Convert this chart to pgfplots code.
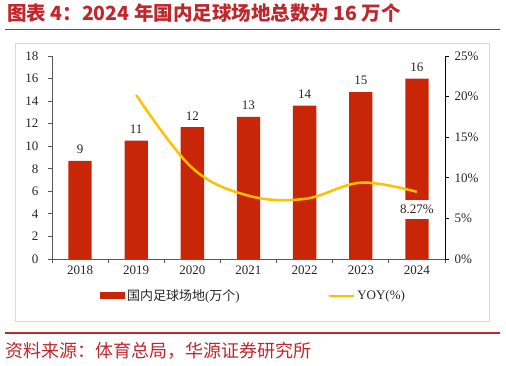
\documentclass[border=0pt]{standalone}
\usepackage{pgfplots}
\pgfplotsset{compat=1.18}
\usepackage{fontspec}
\setmainfont{Liberation Serif}
\newfontfamily\cjk{Noto Sans CJK SC}
\definecolor{titlered}{RGB}{192,39,45}
\definecolor{barred}{RGB}{200,38,6}
\definecolor{linegold}{RGB}{255,192,0}
\definecolor{txt}{RGB}{38,38,38}
\definecolor{axgray}{RGB}{89,89,89}

\pgfplotstableread{
x val label
0 8.7  9
1 10.5 11
2 11.7 12
3 12.6 13
4 13.6 14
5 14.8 15
6 16.0 16
}\bartable

\pgfplotstableread{
x yoy
1 20.2
2 11.2
3 7.8
4 7.4
5 9.4
6 8.27
}\yoytable

\begin{document}
\begin{tikzpicture}
\path (0pt,0pt) rectangle (506pt,366pt);
\node[anchor=base west, inner sep=0, text=titlered] at (7pt,345pt) {\fontsize{19.5}{22}\selectfont\cjk\bfseries 图表 4：2024 年国内足球场地总数为 16 万个};
\draw[titlered, line width=1.5pt] (5pt,336.5pt) -- (500pt,336.5pt);
\draw[black!15, line width=0.8pt] (15pt,323pt) rectangle (489pt,45pt);
\draw[titlered, line width=1.5pt] (5pt,33pt) -- (500pt,33pt);
\node[anchor=base west, inner sep=0, text=titlered] at (5pt,8pt) {\fontsize{18}{20}\selectfont\cjk 资料来源：体育总局，华源证券研究所};

\begin{axis}[at={(52pt,107pt)}, anchor=south west, scale only axis, width=393pt, height=203pt,
  xmin=-0.5, xmax=6.5, ymin=0, ymax=18, ytick={0,2,...,18},
  axis x line*=bottom, axis y line*=left,
  axis line style={-, axgray, line width=0.8pt},
  tick align=outside, major tick length=4pt,
  tick style={axgray, line width=0.8pt},
  xtick={-0.5,0.5,1.5,2.5,3.5,4.5,5.5,6.5}, xticklabels={,,,,,,,},
  extra x ticks={0,1,2,3,4,5,6},
  extra x tick labels={2018,2019,2020,2021,2022,2023,2024},
  extra x tick style={major tick length=0pt, tick label style={yshift=-3pt}},
  ticklabel style={font=\fontsize{13}{15}\selectfont, text=txt},
  yticklabel style={xshift=-6pt},
  /pgf/number format/assume math mode=true,
  legend style={at={(0.122,-0.182)}, anchor=west, draw=none, fill=none,
    font=\fontsize{13}{15}\selectfont, text=txt, inner sep=0pt,
    /tikz/every even column/.append style={column sep=86pt}},
  legend columns=2, legend cell align=left,
  clip=false,
]
\addplot[ybar, bar width=0.415, fill=barred, draw=none,
  nodes near coords, point meta=explicit symbolic,
  every node near coord/.append style={font=\fontsize{13}{15}\selectfont, text=txt, yshift=3.5pt},
  legend image code/.code={\fill[barred] (0pt,-3.5pt) rectangle (25pt,3.5pt);}]
  table[x=x, y=val, meta=label] {\bartable};
\addlegendentry{{\cjk 国内足球场地}({\cjk 万个})}
\addlegendimage{legend image code/.code={\draw[linegold, line width=2.5pt] (0pt,0pt) -- (25pt,0pt);}}
\addlegendentry{YOY(\%)}
\end{axis}

\begin{axis}[at={(52pt,107pt)}, anchor=south west, scale only axis, width=393pt, height=203pt,
  xmin=-0.5, xmax=6.5, ymin=0, ymax=25, ytick={0,5,...,25},
  axis x line=none, axis y line*=right,
  axis line style={-, black, line width=0.8pt},
  tick align=outside, major tick length=4pt,
  tick style={black, line width=0.8pt},
  ticklabel style={font=\fontsize{13}{15}\selectfont, text=txt},
  /pgf/number format/assume math mode=true,
  yticklabel={\pgfmathprintnumber{\tick}\%},
  yticklabel style={xshift=2pt},
]
\addplot[linegold, line width=2.5pt, smooth, tension=0.6, no markers] table[x=x, y=yoy] {\yoytable};
\node[fill=white, inner xsep=1pt, inner ysep=5pt, font=\fontsize{13}{15}\selectfont, text=txt] at (axis cs:6,6.1) {8.27\%};
\end{axis}
\end{tikzpicture}
\end{document}
